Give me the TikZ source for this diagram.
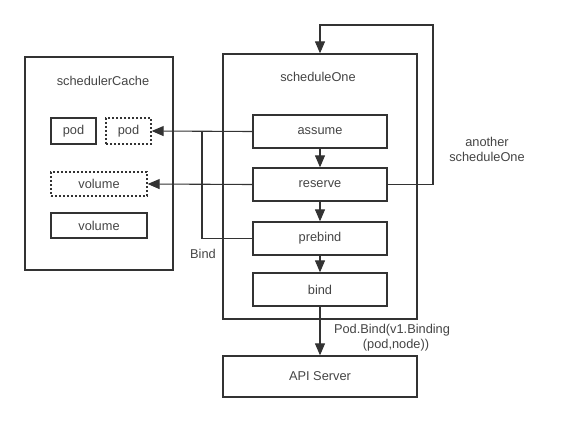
\documentclass[tikz,border=0pt]{standalone}
\usepackage{fontspec}
\setmainfont{Liberation Sans}
\usetikzlibrary{arrows.meta}

\definecolor{ink}{HTML}{333333}
\definecolor{txt}{HTML}{444444}

\tikzset{
  box/.style={draw=ink, line width=1.3pt, rectangle, inner sep=0pt, text=txt},
  dbox/.style={box, dash pattern=on 2pt off 2pt},
  lbl/.style={text=txt, inner sep=0pt, align=center},
  wire/.style={draw=ink, line width=1.1pt}
}

\begin{document}
\begin{tikzpicture}[x=1pt, y=-1pt, >={Triangle[length=12pt,width=10pt]},
    every node/.style={font=\fontsize{12.8}{15}\selectfont}]
  \useasboundingbox (0,0) rectangle (572,422);

  % The cache
  \node [box, minimum width=148pt, minimum height=213pt] (cache) at (99,163.5) {};
  \node [lbl] (cachetitle) at (103,81) {schedulerCache};
  % Pods in the cache
  \node [box, minimum width=45pt, minimum height=26pt] (poda) at (73.5,131) {pod};
  \node [dbox, minimum width=45pt, minimum height=26pt] (podb) at (128.5,131) {pod};
  % Volumes in the cache
  \node [dbox, minimum width=96pt, minimum height=24pt] (vola) at (99,184) {volume};
  \node [box, minimum width=96pt, minimum height=25pt] (volb) at (99,225.5) {volume};

  % The scheduling cycle
  \node [box, minimum width=194pt, minimum height=265pt] (sched) at (320,186.5) {};
  \node [lbl] (schedtitle) at (318,77) {scheduleOne};
  % Its steps
  \node [box, minimum width=134pt, minimum height=33pt] (assume) at (320,131.5) {assume};
  \node [box, minimum width=134pt, minimum height=33pt] (reserve) at (320,184.5) {reserve};
  \node [box, minimum width=134pt, minimum height=33pt] (prebind) at (320,238.5) {prebind};
  \node [box, minimum width=134pt, minimum height=33pt] (bind) at (320,289.5) {bind};

  % The API server
  \node [box, minimum width=194pt, minimum height=41pt] (api) at (320,376.5) {API Server};

  % Corners of the wires
  \coordinate (bindup) at (202,131.5);
  \coordinate (loop) at (433,25);

  % Steps in order
  \draw [wire, ->] (assume) -- (reserve);
  \draw [wire, ->] (reserve) -- (prebind);
  \draw [wire, ->] (prebind) -- (bind);
  \draw [wire, ->] (bind) -- (api);

  % Writes into the cache
  \draw [wire, ->] (assume.west) -- (podb.east);
  \draw [wire, ->] (reserve.west) -- (vola.east);
  \draw [wire] (prebind.west) -| (bindup);

  % The next cycle
  \draw [wire, ->] (reserve.east) -| (loop) -| (sched.north);

  % Labels
  \node [lbl] (bindlbl) at (203,254) {Bind};
  \node [lbl] (another) at (487,149.5) {another\\scheduleOne};
  \node [lbl] (podbind) at (392,337.5) {Pod.Bind(v1.Binding\\\hspace*{8pt}(pod,node))};
\end{tikzpicture}
\end{document}
